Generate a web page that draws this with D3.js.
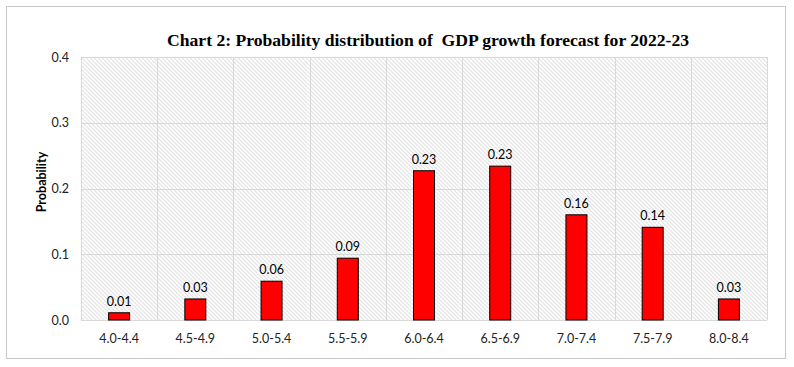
<!DOCTYPE html>
<html><head><meta charset="utf-8">
<script src="https://cdn.jsdelivr.net/npm/d3@7"></script>
<style>body{margin:0;background:#fff}svg{display:block}</style>
</head><body><svg id="c" width="794" height="367"></svg>
<script>
const categories = ["4.0-4.4","4.5-4.9","5.0-5.4","5.5-5.9","6.0-6.4","6.5-6.9","7.0-7.4","7.5-7.9","8.0-8.4"];
const probabilities = [0.011,0.032,0.059,0.094,0.227,0.234,0.160,0.141,0.032];
const valueLabels = ["0.01","0.03","0.06","0.09","0.23","0.23","0.16","0.14","0.03"];
const yTicks = [0,0.1,0.2,0.3,0.4];
const title = "Chart 2: Probability distribution of  GDP growth forecast for 2022-23";

const svg = d3.select("#c");
const m = {l:81, r:767, t:57, b:320};
svg.append("rect").attr("x",6.5).attr("y",6.5).attr("width",779).attr("height",352)
  .attr("fill","#fff").attr("stroke","#c8c8c8").attr("stroke-width",1);

const defs = svg.append("defs");
const pat = defs.append("pattern").attr("id","hatch").attr("patternUnits","userSpaceOnUse")
  .attr("width",4).attr("height",4);
pat.append("rect").attr("width",4).attr("height",4).attr("fill","#fff");
pat.append("path").attr("d","M-1,-1 L5,5 M-1,3 L1,5 M3,-1 L5,1").attr("stroke","#e2e2e2").attr("stroke-width",1.1);

const x = d3.scaleBand().domain(categories).range([m.l,m.r]).paddingInner(0).paddingOuter(0);
const y = d3.scaleLinear().domain([0,0.4]).range([m.b,m.t]);

svg.append("rect").attr("x",m.l).attr("y",m.t).attr("width",m.r-m.l).attr("height",m.b-m.t).attr("fill","url(#hatch)");

// gridlines
const g = svg.append("g");
g.selectAll("line.h").data(yTicks.slice(1)).join("line")
  .attr("x1",m.l).attr("x2",m.r).attr("y1",d=>Math.round(y(d))+0.5).attr("y2",d=>Math.round(y(d))+0.5)
  .attr("stroke","#d9d9d9");
const bounds = categories.map(c=>x(c)).concat([m.r]);
g.selectAll("line.v").data(bounds).join("line")
  .attr("x1",d=>Math.round(d)+0.5).attr("x2",d=>Math.round(d)+0.5).attr("y1",m.t).attr("y2",m.b)
  .attr("stroke","#d9d9d9");
g.append("line").attr("x1",m.l).attr("x2",m.r).attr("y1",m.b+0.5).attr("y2",m.b+0.5).attr("stroke","#d9d9d9");

// bars
const bw = 21;
svg.selectAll("rect.bar").data(probabilities).join("rect")
  .attr("x",(d,i)=>x(categories[i])+x.bandwidth()/2-bw/2)
  .attr("y",d=>y(d)).attr("width",bw).attr("height",d=>y(0)-y(d))
  .attr("fill","#ff0000").attr("stroke","#000").attr("stroke-width",1);

svg.selectAll("text.vl").data(probabilities).join("text")
  .attr("x",(d,i)=>x(categories[i])+x.bandwidth()/2).attr("y",d=>y(d)-7)
  .attr("text-anchor","middle").attr("font-family","Lato, 'Open Sans', sans-serif").attr("font-size",12.5)
  .attr("fill","#000").text((d,i)=>valueLabels[i]);

// axes
const ya = d3.axisLeft(y).tickValues(yTicks).tickFormat(d3.format(".1f")).tickSize(0).tickPadding(12);
svg.append("g").attr("transform",`translate(${m.l},0)`).call(ya)
  .call(s=>s.select(".domain").remove())
  .selectAll("text").attr("font-family","Lato, 'Open Sans', sans-serif").attr("font-size",12.5).attr("fill","#222");
const xa = d3.axisBottom(x).tickSize(0).tickPadding(14);
svg.append("g").attr("transform",`translate(0,${m.b})`).call(xa)
  .call(s=>s.select(".domain").remove())
  .selectAll("text").attr("font-family","Lato, 'Open Sans', sans-serif").attr("font-size",12.5).attr("fill","#222");

svg.append("text").attr("transform","translate(46,182) rotate(-90)").attr("text-anchor","middle")
  .attr("font-family","Lato, 'Open Sans', sans-serif").attr("font-weight","bold").attr("font-size",12.5).text("Probability");

svg.append("text").attr("x",428).attr("y",46).attr("text-anchor","middle")
  .attr("font-family","'Liberation Serif', serif").attr("font-weight","bold").attr("font-size",17)
  .attr("textLength",522).attr("lengthAdjust","spacingAndGlyphs")
  .attr("xml:space","preserve").style("white-space","pre").text(title);
</script></body></html>
